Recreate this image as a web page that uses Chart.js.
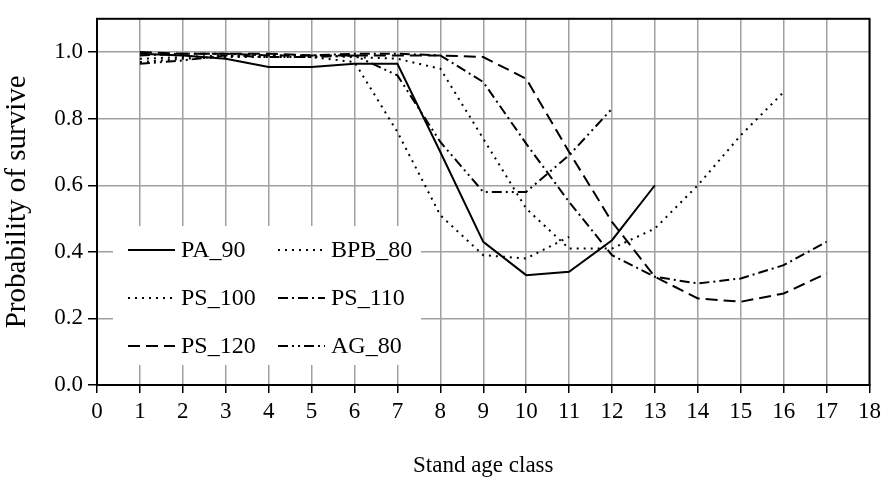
<!DOCTYPE html>
<html>
<head>
<meta charset="utf-8">
<script src="https://cdn.jsdelivr.net/npm/chart.js@4.4.1/dist/chart.umd.min.js"></script>
<style>
  html, body { margin: 0; padding: 0; background: #fff; }
  #wrap { width: 886px; height: 477px; }
</style>
</head>
<body>
<div id="wrap"><canvas id="line-chart" width="886" height="477"></canvas></div>
<script>
// stand age classes and survival probabilities
var ageClass = [1, 2, 3, 4, 5, 6, 7, 8, 9, 10, 11, 12, 13, 14, 15, 16, 17];
var xTicks = [0, 1, 2, 3, 4, 5, 6, 7, 8, 9, 10, 11, 12, 13, 14, 15, 16, 17, 18];
var yTicks = [0.0, 0.2, 0.4, 0.6, 0.8, 1.0];

var seriesNames = ['PA_90', 'BPB_80', 'PS_100', 'PS_110', 'PS_120', 'AG_80'];
var PA_90  = [0.995, 0.99, 0.98, 0.955, 0.955, 0.965, 0.965, 0.70, 0.43, 0.33, 0.34, 0.435, 0.60];
var BPB_80 = [0.97, 0.98, 0.985, 0.985, 0.985, 0.97, 0.76, 0.51, 0.39, 0.38, 0.445];
var PS_100 = [0.98, 0.985, 0.99, 0.99, 0.99, 0.985, 0.98, 0.95, 0.74, 0.53, 0.41, 0.41, 0.47, 0.60, 0.75, 0.88];
var PS_110 = [0.99, 0.995, 0.995, 0.99, 0.99, 0.995, 0.995, 0.99, 0.91, 0.725, 0.55, 0.39, 0.325, 0.305, 0.32, 0.36, 0.43];
var PS_120 = [1.0, 0.995, 0.995, 0.995, 0.99, 0.99, 0.99, 0.99, 0.985, 0.92, 0.70, 0.49, 0.325, 0.26, 0.25, 0.275, 0.335];
var AG_80  = [0.965, 0.975, 0.99, 0.985, 0.985, 0.99, 0.93, 0.73, 0.58, 0.58, 0.69, 0.83];

var values = [PA_90, BPB_80, PS_100, PS_110, PS_120, AG_80];
var dashes = [[], [2, 5], [2, 5], [10, 4, 2, 4], [12, 6], [10, 4, 2, 4, 2, 4]];

function points(arr) {
    var pts = [];
    for (var i = 0; i < arr.length; i++) {
        pts.push({x: ageClass[i], y: arr[i]});
    }
    return pts;
}

var datasets = [];
for (var i = 0; i < seriesNames.length; i++) {
    datasets.push({
        label: seriesNames[i],
        data: points(values[i]),
        borderColor: '#000',
        borderWidth: 2,
        borderDash: dashes[i],
        pointRadius: 0,
        fill: false,
        tension: 0
    });
}

// legend sits inside the plot in a white box
var boxLegend = {
    id: 'boxLegend',
    afterDatasetsDraw: function(chart) {
        var ctx = chart.ctx;
        var a = chart.chartArea;
        ctx.save();
        ctx.fillStyle = '#fff';
        ctx.fillRect(113, 226, 308, 139);
        ctx.font = '24px "Liberation Serif"';
        ctx.textBaseline = 'middle';
        ctx.fillStyle = '#000';
        var cols = [128, 278];
        var rows = [250, 298, 346];
        chart.data.datasets.forEach(function(ds, k) {
            var x = cols[k % 2], y = rows[Math.floor(k / 2)];
            ctx.beginPath();
            ctx.setLineDash(ds.borderDash);
            ctx.lineWidth = 2;
            ctx.strokeStyle = '#000';
            ctx.moveTo(x, y);
            ctx.lineTo(x + 47, y);
            ctx.stroke();
            ctx.setLineDash([]);
            ctx.fillText(ds.label, x + 53, y + 1);
        });
        // frame
        ctx.lineWidth = 2;
        ctx.strokeStyle = '#000';
        ctx.strokeRect(a.left, a.top, a.right - a.left, a.bottom - a.top);
        ctx.restore();
    }
};

new Chart(document.getElementById('line-chart'), {
    type: 'line',
    data: { datasets: datasets },
    options: {
        responsive: false,
        animation: false,
        layout: { padding: { left: 3, right: 14, top: 13, bottom: 0 } },
        plugins: { legend: { display: false }, tooltip: { enabled: false } },
        scales: {
            x: {
                type: 'linear',
                min: 0, max: 18,
                afterBuildTicks: function(s) { s.ticks = xTicks.map(function(v) { return {value: v}; }); },
                afterFit: function(s) { s.height = 92; },
                grid: { color: '#a0a0a0', lineWidth: 1.5, tickColor: '#000', tickLength: 8 },
                border: { color: '#000', width: 2 },
                ticks: { color: '#000', padding: 5, maxRotation: 0, font: { family: 'Liberation Serif', size: 23 } },
                title: { display: true, text: 'Stand age class', color: '#000', padding: 0,
                         font: { family: 'Liberation Serif', size: 23, lineHeight: 1 } }
            },
            y: {
                min: 0, max: 1.1,
                afterBuildTicks: function(s) { s.ticks = yTicks.map(function(v) { return {value: v}; }); },
                afterFit: function(s) { s.width = 94; },
                grid: { color: '#a0a0a0', lineWidth: 1.5, tickColor: '#000', tickLength: 9 },
                border: { color: '#000', width: 2 },
                ticks: { color: '#000', padding: 5, font: { family: 'Liberation Serif', size: 23 },
                         callback: function(v) { return v.toFixed(1); } },
                title: { display: true, text: 'Probability of survive', color: '#000', padding: 0,
                         font: { family: 'Liberation Serif', size: 29, lineHeight: 1 } }
            }
        }
    },
    plugins: [boxLegend]
});
</script>
</body>
</html>
